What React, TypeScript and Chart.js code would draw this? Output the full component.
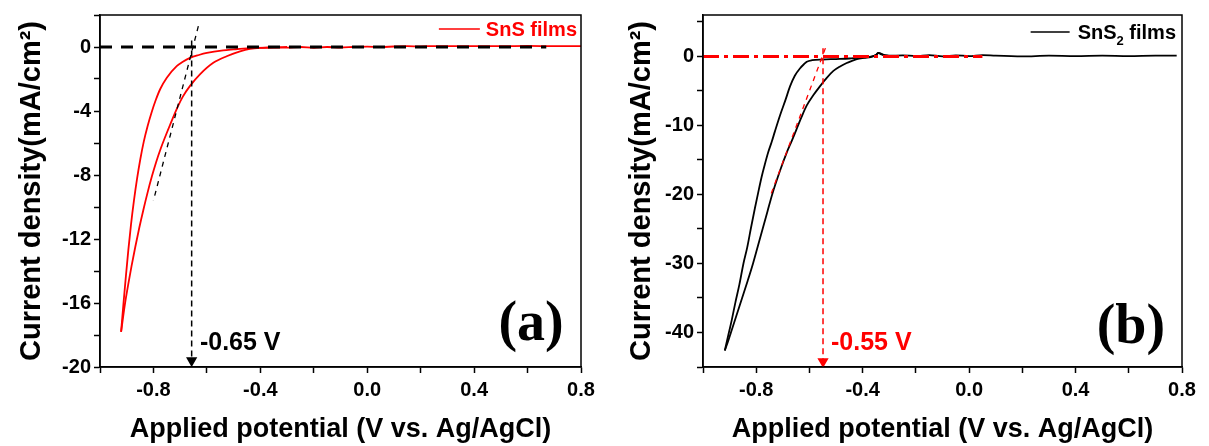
import React, { useEffect, useRef } from "react";
import { Chart, registerables } from "chart.js";

Chart.register(...registerables);

// ---------- axis ticks ----------
const xTickValues = [-1.0, -0.8, -0.6, -0.4, -0.2, 0.0, 0.2, 0.4, 0.6, 0.8];
const xTickLabels = [-0.8, -0.4, 0.0, 0.4, 0.8];
const snsYTickValues = [-20, -18, -16, -14, -12, -10, -8, -6, -4, -2, 0, 2];
const snsYTickLabels = [0, -4, -8, -12, -16, -20];
const sns2YTickValues = [-45, -40, -35, -30, -25, -20, -15, -10, -5, 0, 5];
const sns2YTickLabels = [0, -10, -20, -30, -40];

// ---------- (a) SnS films ----------
const snsOuterV = [-0.921, -0.912, -0.903, -0.894, -0.884, -0.873, -0.861, -0.849, -0.836, -0.822, -0.807, -0.791, -0.775, -0.75, -0.713, -0.69, -0.663, -0.63, -0.6, -0.539, -0.5, -0.464, -0.41, -0.35, -0.3, -0.25, -0.2, -0.15, -0.1, -0.05, 0.0, 0.05, 0.1, 0.15, 0.2, 0.25, 0.3, 0.4, 0.5, 0.6, 0.7, 0.8];
const snsOuterJ = [-17.8, -16.0, -14.3, -12.7, -11.1, -9.6, -8.2, -7.0, -5.9, -4.95, -4.09, -3.3, -2.64, -1.92, -1.2, -0.92, -0.68, -0.5, -0.37, -0.21, -0.15, -0.1, -0.05, -0.03, -0.04, 0.0, -0.05, 0.0, -0.03, 0.0, 0.02, 0.0, 0.03, 0.05, 0.04, 0.06, 0.05, 0.06, 0.05, 0.07, 0.05, 0.06];
const snsInnerV = [-0.921, -0.907, -0.895, -0.882, -0.868, -0.853, -0.838, -0.822, -0.806, -0.79, -0.773, -0.744, -0.713, -0.69, -0.663, -0.626, -0.576, -0.526, -0.476, -0.439, -0.39, -0.35, -0.3];
const snsInnerJ = [-17.8, -16.1, -14.9, -13.7, -12.5, -11.3, -10.2, -9.1, -8.1, -7.2, -6.36, -5.12, -3.88, -3.1, -2.43, -1.71, -0.99, -0.58, -0.27, -0.12, -0.05, -0.02, 0.0];
const snsBaselineV = [-1.0, 0.67];
const snsBaselineJ = [0, 0];
const snsOnsetV = [-0.657, -0.657];
const snsOnsetJ = [0.4, -19.6];
const snsTangentV = [-0.632, -0.8];
const snsTangentJ = [1.3, -9.6];

// ---------- (b) SnS2 films ----------
const sns2OuterV = [-0.918, -0.905, -0.892, -0.878, -0.863, -0.848, -0.834, -0.82, -0.805, -0.793, -0.78, -0.768, -0.755, -0.742, -0.73, -0.711, -0.69, -0.673, -0.655, -0.635, -0.62, -0.61, -0.59, -0.55, -0.5, -0.45, -0.42, -0.38, -0.35, -0.342, -0.33, -0.3, -0.25, -0.2, -0.15, -0.1, -0.05, 0.0, 0.05, 0.1, 0.2, 0.3, 0.4, 0.5, 0.6, 0.7, 0.78];
const sns2OuterJ = [-42.6, -40.4, -38.2, -35.6, -33.0, -30.0, -27.7, -24.9, -22.0, -19.8, -17.5, -15.7, -13.9, -12.4, -10.9, -8.6, -6.3, -4.35, -2.8, -1.72, -1.1, -0.77, -0.55, -0.45, -0.38, -0.3, -0.2, -0.1, 0.2, 0.5, 0.3, 0.1, 0.15, 0.05, 0.2, 0.0, 0.15, 0.05, 0.2, 0.1, 0.0, 0.1, 0.05, 0.1, 0.05, 0.1, 0.1];
const sns2InnerV = [-0.918, -0.906, -0.895, -0.874, -0.853, -0.832, -0.812, -0.794, -0.776, -0.758, -0.74, -0.71, -0.685, -0.666, -0.648, -0.63, -0.61, -0.585, -0.56, -0.535, -0.51, -0.485, -0.46, -0.44, -0.422, -0.395, -0.37, -0.35, -0.34, -0.32, -0.3];
const sns2InnerJ = [-42.6, -41.3, -40.0, -37.5, -35.0, -32.5, -30.0, -27.5, -25.0, -22.5, -20.0, -16.5, -13.9, -12.2, -10.5, -8.8, -7.1, -5.6, -4.3, -3.1, -2.1, -1.45, -0.95, -0.65, -0.4, -0.22, -0.1, 0.2, 0.5, 0.2, 0.05];
const sns2BaselineV = [-1.0, 0.05];
const sns2BaselineJ = [0, 0];
const sns2OnsetV = [-0.549, -0.549];
const sns2OnsetJ = [1.2, -44.2];
const sns2TangentV = [-0.54, -0.745];
const sns2TangentJ = [1.2, -20.0];

// ---------- text ----------
const xTitle = "Applied potential (V vs. Ag/AgCl)";
const yTitle = "Current density(mA/cm²)";
const snsLegend = [{ t: "SnS films" }];
const sns2Legend = [{ t: "SnS" }, { t: "2", sub: true }, { t: " films" }];
const snsOnsetText = "-0.65 V";
const sns2OnsetText = "-0.55 V";
const snsPanelText = "(a)";
const sns2PanelText = "(b)";

const SANS = "'Liberation Sans', Arial, Helvetica, sans-serif";
const SERIF = "'Liberation Serif', 'Times New Roman', serif";

const pts = (xs: number[], ys: number[]) => xs.map((x, i) => ({ x, y: ys[i] }));

const labelFor = (v: number, labels: number[], digits: number) => {
  const hit = labels.find((l) => Math.abs(l - v) < 1e-6);
  if (hit === undefined) return "";
  return digits > 0 ? Math.abs(hit) < 1e-9 ? (0).toFixed(digits) : hit.toFixed(digits) : String(hit);
};

type Panel = {
  width: number;
  yAxisWidth: number;
  padRight: number;
  yTitlePad: number;
  yMin: number;
  yMax: number;
  yTicks: number[];
  yLabels: number[];
  curveColor: string;
  annotColor: string;
  outer: { x: number; y: number }[];
  inner: { x: number; y: number }[];
  baseline: { x: number; y: number }[];
  baselineDash: number[];
  onset: { x: number; y: number }[];
  tangent: { x: number; y: number }[];
  legend: { t: string; sub?: boolean }[];
  legendRightInset: number;
  legendY: number;
  legendLineLen: number;
  legendGap: number;
  onsetText: string;
  onsetPos: { x: number; y: number };
  panelText: string;
  panelPos: { x: number; y: number };
};

function makeChart(canvas: HTMLCanvasElement, p: Panel) {
  const overlay = {
    id: "overlay",
    afterDraw(chart: any) {
      const { ctx, chartArea: a, scales } = chart;
      ctx.save();
      // frame
      ctx.strokeStyle = "#000";
      ctx.lineWidth = 1.5;
      ctx.strokeRect(a.left, a.top, a.right - a.left, a.bottom - a.top);

      // legend
      const mainFont = `bold 20px ${SANS}`;
      const subFont = `bold 13px ${SANS}`;
      let total = 0;
      const widths = p.legend.map((part) => {
        ctx.font = part.sub ? subFont : mainFont;
        const w = ctx.measureText(part.t).width;
        total += w;
        return w;
      });
      const right = a.right - p.legendRightInset;
      let x = right - total;
      const baseY = a.top + p.legendY + 7;
      ctx.fillStyle = p.curveColor;
      ctx.textBaseline = "alphabetic";
      ctx.textAlign = "left";
      p.legend.forEach((part, i) => {
        ctx.font = part.sub ? subFont : mainFont;
        ctx.fillText(part.t, x, part.sub ? baseY + 6 : baseY);
        x += widths[i];
      });
      const lx1 = right - total - p.legendGap;
      ctx.strokeStyle = p.curveColor;
      ctx.lineWidth = 1.5;
      ctx.beginPath();
      ctx.moveTo(lx1 - p.legendLineLen, a.top + p.legendY);
      ctx.lineTo(lx1, a.top + p.legendY);
      ctx.stroke();

      // onset label
      ctx.fillStyle = p.annotColor;
      ctx.font = `bold 25px ${SANS}`;
      ctx.textBaseline = "middle";
      ctx.textAlign = "left";
      ctx.fillText(p.onsetText, scales.x.getPixelForValue(p.onsetPos.x), scales.y.getPixelForValue(p.onsetPos.y));

      // panel label
      ctx.fillStyle = "#000";
      ctx.font = `bold 56px ${SERIF}`;
      ctx.textAlign = "center";
      ctx.fillText(p.panelText, scales.x.getPixelForValue(p.panelPos.x), scales.y.getPixelForValue(p.panelPos.y));
      ctx.restore();
    },
  };

  const line = (data: any[], color: string, width: number, dash: number[] = [], smooth = false) => ({
    data,
    showLine: true,
    borderColor: color,
    backgroundColor: color,
    borderWidth: width,
    borderDash: dash,
    pointRadius: 0,
    tension: 0,
    cubicInterpolationMode: smooth ? "monotone" : "default",
  });

  const onsetDs: any = line(p.onset, p.annotColor, 1.5, [6, 4]);
  onsetDs.pointRadius = [0, 5];
  onsetDs.pointStyle = "triangle";
  onsetDs.rotation = 180;
  onsetDs.pointBackgroundColor = p.annotColor;
  onsetDs.pointBorderColor = p.annotColor;

  return new Chart(canvas, {
    type: "scatter",
    data: {
      datasets: [
        line(p.baseline, p.annotColor, 3, p.baselineDash),
        onsetDs,
        line(p.tangent, p.annotColor, 1.3, [5, 5]),
        line(p.outer, p.curveColor, 1.8, [], true),
        line(p.inner, p.curveColor, 1.8, [], true),
      ],
    },
    options: {
      responsive: false,
      animation: false,
      devicePixelRatio: 1,
      events: [],
      layout: { padding: { left: 0, right: p.padRight, top: 12, bottom: 0 } },
      plugins: { legend: { display: false }, tooltip: { enabled: false } },
      scales: {
        x: {
          type: "linear",
          min: -1.0,
          max: 0.8,
          afterBuildTicks: (s: any) => {
            s.ticks = xTickValues.map((v) => ({ value: v }));
          },
          afterFit: (s: any) => {
            s.height = 79;
          },
          ticks: {
            autoSkip: false,
            maxRotation: 0,
            padding: 5,
            color: "#000",
            font: { family: SANS, size: 20, weight: "bold" },
            callback: (v: any) => labelFor(Number(v), xTickLabels, 1),
          },
          grid: { drawOnChartArea: false, drawTicks: true, tickLength: 6, tickColor: "#000", tickWidth: 1.5 },
          border: { display: true, color: "#000", width: 1.5 },
          title: {
            display: true,
            text: xTitle,
            color: "#000",
            font: { family: SANS, size: 27, weight: "bold" },
            padding: { top: 0, bottom: 0 },
          },
        },
        y: {
          type: "linear",
          min: p.yMin,
          max: p.yMax,
          afterBuildTicks: (s: any) => {
            s.ticks = p.yTicks.map((v) => ({ value: v }));
          },
          afterFit: (s: any) => {
            s.width = p.yAxisWidth;
          },
          ticks: {
            autoSkip: false,
            padding: 3,
            color: "#000",
            font: { family: SANS, size: 20, weight: "bold" },
            callback: (v: any) => labelFor(Number(v), p.yLabels, 0),
          },
          grid: { drawOnChartArea: false, drawTicks: true, tickLength: 6, tickColor: "#000", tickWidth: 1.5 },
          border: { display: true, color: "#000", width: 1.5 },
          title: {
            display: true,
            text: yTitle,
            color: "#000",
            font: { family: SANS, size: 29, weight: "bold" },
            padding: { top: p.yTitlePad, bottom: 0 },
          },
        },
      },
    } as any,
    plugins: [overlay],
  });
}

const panelA: Panel = {
  width: 600,
  yAxisWidth: 100,
  padRight: 19,
  yTitlePad: 15,
  yMin: -20,
  yMax: 2,
  yTicks: snsYTickValues,
  yLabels: snsYTickLabels,
  curveColor: "#ff0000",
  annotColor: "#000000",
  outer: pts(snsOuterV, snsOuterJ),
  inner: pts(snsInnerV, snsInnerJ),
  baseline: pts(snsBaselineV, snsBaselineJ),
  baselineDash: [12, 9],
  onset: pts(snsOnsetV, snsOnsetJ),
  tangent: pts(snsTangentV, snsTangentJ),
  legend: snsLegend,
  legendRightInset: 4,
  legendY: 14,
  legendLineLen: 41,
  legendGap: 6,
  onsetText: snsOnsetText,
  onsetPos: { x: -0.626, y: -18.5 },
  panelText: snsPanelText,
  panelPos: { x: 0.613, y: -17.4 },
};

const panelB: Panel = {
  width: 609,
  yAxisWidth: 103,
  padRight: 27,
  yTitlePad: 25,
  yMin: -45,
  yMax: 6,
  yTicks: sns2YTickValues,
  yLabels: sns2YTickLabels,
  curveColor: "#000000",
  annotColor: "#ff0000",
  outer: pts(sns2OuterV, sns2OuterJ),
  inner: pts(sns2InnerV, sns2InnerJ),
  baseline: pts(sns2BaselineV, sns2BaselineJ),
  baselineDash: [16, 5, 4, 5],
  onset: pts(sns2OnsetV, sns2OnsetJ),
  tangent: pts(sns2TangentV, sns2TangentJ),
  legend: sns2Legend,
  legendRightInset: 6,
  legendY: 17,
  legendLineLen: 39,
  legendGap: 8,
  onsetText: sns2OnsetText,
  onsetPos: { x: -0.519, y: -41.6 },
  panelText: sns2PanelText,
  panelPos: { x: 0.608, y: -39.4 },
};

function PanelChart({ panel, left }: { panel: Panel; left: number }) {
  const ref = useRef<HTMLCanvasElement | null>(null);
  useEffect(() => {
    if (!ref.current) return;
    const chart = makeChart(ref.current, panel);
    return () => chart.destroy();
  }, [panel]);
  return (
    <canvas
      ref={ref}
      width={panel.width}
      height={446}
      style={{ position: "absolute", left, top: 0, width: panel.width, height: 446 }}
    />
  );
}

export default function App() {
  return (
    <div style={{ position: "absolute", left: 0, top: 0, width: 1209, height: 446, background: "#fff", overflow: "hidden" }}>
      <PanelChart panel={panelA} left={0} />
      <PanelChart panel={panelB} left={600} />
    </div>
  );
}
